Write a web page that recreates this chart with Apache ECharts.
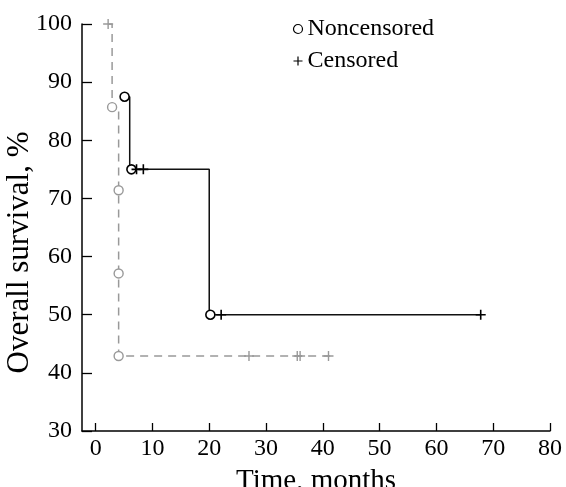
<!DOCTYPE html>
<html>
<head>
<meta charset="utf-8">
<script src="https://cdn.jsdelivr.net/npm/echarts@6/dist/echarts.min.js"></script>
<style>
  html, body { margin: 0; padding: 0; background: #fff; }
  #chart { width: 566px; height: 487px; }
</style>
</head>
<body>
<div id="chart"></div>
<script>
// step curves (time in months, survival %)
const blackCurve = [[5.1, 87.5], [6.0, 87.5], [6.0, 75], [20, 75], [20, 50], [67.8, 50]];
const grayCurve = [[2.2, 100], [2.9, 100], [2.9, 85.7], [4.05, 85.7], [4.05, 42.9], [41.7, 42.9]];
// event markers
const blackEvents = [[5.1, 87.5], [6.3, 75], [20.2, 50]];
const blackCensored = [[7.2, 75], [8.4, 75], [22.1, 50], [67.8, 50]];
const grayEvents = [[2.9, 85.7], [4.05, 71.4], [4.05, 57.1], [4.05, 42.9]];
const grayCensored = [[2.2, 100], [27, 42.9], [35.5, 42.9], [36, 42.9], [41, 42.9]];
// tick labels
const xTicks = [0, 10, 20, 30, 40, 50, 60, 70, 80];

const serif = 'Liberation Serif';
const plus = 'path://M5,0L5,10M0,5L10,5';

const myChart = echarts.init(document.getElementById('chart'));
myChart.setOption({
  animation: false,
  grid: { left: 82, right: 16, top: 24, bottom: 56, outerBoundsMode: 'none', containLabel: false },
  legend: {
    orient: 'vertical',
    left: 286,
    top: 12,
    itemGap: 8,
    itemWidth: 9,
    itemHeight: 9,
    textStyle: { fontFamily: serif, fontSize: 24, color: '#000' },
    data: [
      { name: 'Noncensored', icon: 'circle', itemStyle: { color: '#fff', borderColor: '#000', borderWidth: 1.2 } },
      { name: 'Censored', icon: plus, itemStyle: { color: 'none', borderColor: '#000', borderWidth: 1.2 } }
    ]
  },
  xAxis: {
    type: 'value',
    min: -2.4,
    max: 80,
    name: 'Time, months',
    nameLocation: 'middle',
    nameGap: 36,
    nameMoveOverlap: false,
    nameTextStyle: { fontFamily: serif, fontSize: 29, color: '#000' },
    splitLine: { show: false },
    axisLine: { show: true, onZero: false, lineStyle: { color: '#000', width: 1.5 } },
    axisTick: { show: true, inside: true, length: 8, customValues: xTicks, lineStyle: { color: '#000', width: 1.3 } },
    axisLabel: { customValues: xTicks, fontFamily: serif, fontSize: 24, color: '#000', margin: 6 }
  },
  yAxis: {
    type: 'value',
    min: 30,
    max: 100,
    interval: 10,
    name: 'Overall survival, %',
    nameLocation: 'middle',
    nameGap: 47,
    nameMoveOverlap: false,
    nameTextStyle: { fontFamily: serif, fontSize: 31, color: '#000', padding: [0, 50, 0, 0] },
    splitLine: { show: false },
    axisLine: { show: true, onZero: false, lineStyle: { color: '#000', width: 1.5 } },
    axisTick: { show: true, inside: true, length: 10, lineStyle: { color: '#000', width: 1.3 } },
    axisLabel: { fontFamily: serif, fontSize: 24, color: '#000', margin: 10 }
  },
  series: [
    {
      type: 'line', data: blackCurve, symbol: 'none',
      lineStyle: { color: '#111', width: 1.5 }
    },
    {
      type: 'line', data: grayCurve, symbol: 'none',
      lineStyle: { color: '#999', width: 1.5, type: [8, 6] }
    },
    {
      name: 'Noncensored', type: 'scatter', data: blackEvents, symbol: 'circle', symbolSize: 9,
      itemStyle: { color: '#fff', borderColor: '#000', borderWidth: 1.6, opacity: 1 }, z: 5
    },
    {
      name: 'Censored', type: 'scatter', data: blackCensored, symbol: plus, symbolSize: 10,
      itemStyle: { color: 'none', borderColor: '#000', borderWidth: 1.6, opacity: 1 }, z: 5
    },
    {
      type: 'scatter', data: grayEvents, symbol: 'circle', symbolSize: 9,
      itemStyle: { color: '#fff', borderColor: '#999', borderWidth: 1.4, opacity: 1 }, z: 4
    },
    {
      type: 'scatter', data: grayCensored, symbol: plus, symbolSize: 10,
      itemStyle: { color: 'none', borderColor: '#999', borderWidth: 1.4, opacity: 1 }, z: 4
    }
  ]
});
</script>
</body>
</html>
